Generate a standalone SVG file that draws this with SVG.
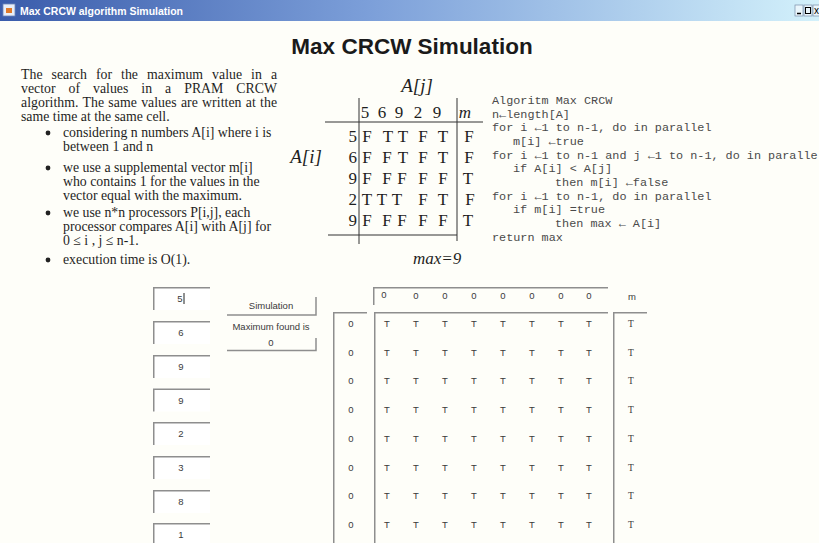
<svg xmlns="http://www.w3.org/2000/svg" width="819" height="543" viewBox="0 0 819 543">
<defs>
<linearGradient id="tb" x1="0" x2="1" y1="0" y2="0">
<stop offset="0" stop-color="#3a5cab"/>
<stop offset="0.45" stop-color="#7c9fd9"/>
<stop offset="1" stop-color="#d3f1fb"/>
</linearGradient>
</defs>
<style>
.serif{font-family:"Liberation Serif","Times New Roman",serif;fill:#1e1e1e}
.para{font-size:13.8px}
.mat{font-size:17px;text-anchor:middle}
.it{font-style:italic}
.mono{font-family:"Liberation Mono","DejaVu Sans Mono","Courier New",monospace;font-size:11.8px;fill:#4a4a4a}
.ui{font-family:"Liberation Sans",Tahoma,Arial,sans-serif;font-size:9.5px;fill:#3a3a3a;text-anchor:middle}
.sunk{fill:none;stroke:#8e8e8e;stroke-width:1.5}
.btn{fill:none;stroke:#8e8e8e;stroke-width:1.5}
.rule{stroke:#333;stroke-width:1;fill:none}
.fld{fill:#ffffff;stroke:none}
</style>
<rect x="0" y="0" width="819" height="543" fill="#fefef9"/>

<g id="titlebar">
<rect x="0" y="0" width="819" height="21" fill="url(#tb)"/>
<rect x="3" y="4" width="12" height="12" fill="#e8eef8" stroke="#6d86b8" stroke-width="0.8"/>
<rect x="6" y="8" width="6" height="5" fill="#e07a2a"/>
<text x="20" y="14.5" font-family="Liberation Sans,Tahoma,sans-serif" font-weight="bold" font-size="10px" fill="#ffffff" textLength="163" lengthAdjust="spacingAndGlyphs">Max CRCW algorithm Simulation</text>
<rect x="795" y="5" width="8" height="11" fill="#eaf6fc" stroke="#7a8ea8" stroke-width="0.7"/>
<line x1="797" y1="13.5" x2="801" y2="13.5" stroke="#000" stroke-width="1.5"/>
<rect x="804" y="5" width="8" height="11" fill="#eaf6fc" stroke="#7a8ea8" stroke-width="0.7"/>
<rect x="805.5" y="7.5" width="5" height="6" fill="none" stroke="#000" stroke-width="1"/>
<rect x="813" y="5" width="8" height="11" fill="#eaf6fc" stroke="#7a8ea8" stroke-width="0.7"/>
<text x="814" y="14" font-family="Liberation Sans,sans-serif" font-size="10px" fill="#000">x</text>
</g>

<text id="title" x="412" y="54" font-family="Liberation Sans,Arial,sans-serif" font-weight="bold" font-size="22.5px" fill="#1a1a1a" text-anchor="middle">Max CRCW Simulation</text>

<g id="description" class="serif para">
<text x="21" y="79" word-spacing="5.5" textLength="256" lengthAdjust="spacing">The search for the maximum value in a</text>
<text x="21" y="93" word-spacing="9.5" textLength="256" lengthAdjust="spacing">vector of values in a PRAM CRCW</text>
<text x="21" y="107" word-spacing="0.8" textLength="256" lengthAdjust="spacing">algorithm. The same values are written at the</text>
<text x="21" y="121">same time at the same cell.</text>
<circle cx="48" cy="133" r="2.4" fill="#222"/>
<text x="63" y="137">considering n numbers A[i] where i is</text>
<text x="63" y="151">between 1 and n</text>
<circle cx="48" cy="168" r="2.4" fill="#222"/>
<text x="63" y="172">we use a supplemental vector m[i]</text>
<text x="63" y="186">who contains 1 for the values in the</text>
<text x="63" y="200">vector equal with the maximum.</text>
<circle cx="48" cy="213" r="2.4" fill="#222"/>
<text x="63" y="217">we use n*n processors P[i,j], each</text>
<text x="63" y="231">processor compares A[i] with A[j] for</text>
<text x="63" y="245">0 ≤ i , j ≤ n-1.</text>
<circle cx="48" cy="260" r="2.4" fill="#222"/>
<text x="63" y="264">execution time is O(1).</text>
</g>

<g id="matrix" class="serif">
<text x="417" y="92" font-size="19px" class="it" text-anchor="middle">A[j]</text>
<text x="306" y="163" font-size="19px" class="it" text-anchor="middle">A[i]</text>
<line class="rule" x1="359" y1="98" x2="359" y2="244"/>
<line class="rule" x1="457" y1="98" x2="457" y2="241"/>
<line class="rule" x1="325" y1="122" x2="483" y2="122"/>
<line class="rule" x1="328" y1="235" x2="457" y2="235"/>
<g class="mat">
<text x="365" y="117.5">5</text><text x="382" y="117.5">6</text><text x="399" y="117.5">9</text><text x="418" y="117.5">2</text><text x="437" y="117.5">9</text><text x="465" y="117.5" class="it">m</text>
<text x="357" y="141.5" text-anchor="end">5</text>
<text x="367" y="141.5">F</text><text x="388" y="141.5">T</text><text x="403" y="141.5">T</text><text x="423" y="141.5">F</text><text x="443" y="141.5">T</text><text x="469" y="141.5">F</text>
<text x="357" y="162.5" text-anchor="end">6</text>
<text x="367" y="162.5">F</text><text x="387" y="162.5">F</text><text x="403" y="162.5">T</text><text x="423" y="162.5">F</text><text x="443" y="162.5">T</text><text x="469" y="162.5">F</text>
<text x="357" y="183.5" text-anchor="end">9</text>
<text x="367" y="183.5">F</text><text x="387" y="183.5">F</text><text x="402" y="183.5">F</text><text x="423" y="183.5">F</text><text x="443" y="183.5">F</text><text x="468" y="183.5">T</text>
<text x="357" y="204.5" text-anchor="end">2</text>
<text x="367" y="204.5">T</text><text x="382" y="204.5">T</text><text x="397" y="204.5">T</text><text x="423" y="204.5">F</text><text x="443" y="204.5">T</text><text x="470" y="204.5">F</text>
<text x="357" y="225.5" text-anchor="end">9</text>
<text x="367" y="225.5">F</text><text x="387" y="225.5">F</text><text x="402" y="225.5">F</text><text x="423" y="225.5">F</text><text x="443" y="225.5">F</text><text x="468" y="225.5">T</text>
</g>
<text x="413" y="264" font-size="17px" class="it">max=9</text>
</g>

<g id="algorithm" class="mono">
<text x="492" y="104">Algoritm Max CRCW</text>
<text x="492" y="117.5">n←length[A]</text>
<text x="492" y="131">for i ←1 to n-1, do in parallel</text>
<text x="513" y="145">m[i] ←true</text>
<text x="492" y="158.5">for i ←1 to n-1 and j ←1 to n-1, do in paralle</text>
<text x="513" y="172">if A[i] &lt; A[j]</text>
<text x="555" y="186">then m[i] ←false</text>
<text x="492" y="199.5">for i ←1 to n-1, do in parallel</text>
<text x="513" y="213">if m[i] =true</text>
<text x="555" y="227">then max ← A[i]</text>
<text x="492" y="240.5">return max</text>
</g>

<g id="inputs">
<rect class="fld" x="153" y="287" width="57" height="23"/><path class="sunk" d="M153.75,310 V287.75 H210"/><text class="ui" x="180" y="302">5</text><line x1="184" y1="293" x2="184" y2="304" stroke="#222" stroke-width="1"/>
<rect class="fld" x="153" y="321" width="57" height="23"/><path class="sunk" d="M153.75,344 V321.75 H210"/><text class="ui" x="181" y="336">6</text>
<rect class="fld" x="153" y="355" width="57" height="23"/><path class="sunk" d="M153.75,378 V355.75 H210"/><text class="ui" x="181" y="370">9</text>
<rect class="fld" x="153" y="388.5" width="57" height="23"/><path class="sunk" d="M153.75,411.5 V389.25 H210"/><text class="ui" x="181" y="403.5">9</text>
<rect class="fld" x="153" y="422" width="57" height="23"/><path class="sunk" d="M153.75,445 V422.75 H210"/><text class="ui" x="181" y="437">2</text>
<rect class="fld" x="153" y="456" width="57" height="23"/><path class="sunk" d="M153.75,479 V456.75 H210"/><text class="ui" x="181" y="471">3</text>
<rect class="fld" x="153" y="490" width="57" height="23"/><path class="sunk" d="M153.75,513 V490.75 H210"/><text class="ui" x="181" y="505">8</text>
<rect class="fld" x="153" y="523" width="57" height="23"/><path class="sunk" d="M153.75,546 V523.75 H210"/><text class="ui" x="181" y="538">1</text>
</g>

<g id="controls">
<path class="btn" d="M227,315 H316 V297"/>
<text class="ui" x="271" y="308.5">Simulation</text>
<text class="ui" x="271" y="330">Maximum found is</text>
<path class="btn" d="M227,350.5 H316 V338"/>
<text class="ui" x="271" y="346">0</text>
</g>

<g id="grid">
<path class="sunk" d="M373.75,305 V287.75 H608"/>
<g class="ui" font-size="9px">
<text x="384" y="298">0</text><text x="416" y="299">0</text><text x="445" y="299">0</text><text x="474" y="299">0</text><text x="503" y="299">0</text><text x="532" y="299">0</text><text x="561" y="299">0</text><text x="589" y="299">0</text>
</g>
<text class="ui" x="632" y="300">m</text>
<path class="sunk" d="M333.75,543 V312.75 H367"/>
<path class="sunk" d="M374.75,543 V312.75 H608"/>
<path class="sunk" d="M613.75,543 V312.75 H647"/>
<g class="ui">
<text x="351" y="327">0</text><text x="351" y="355.7">0</text><text x="351" y="384.4">0</text><text x="351" y="413.1">0</text><text x="351" y="441.8">0</text><text x="351" y="470.5">0</text><text x="351" y="499.2">0</text><text x="351" y="527.9">0</text>
</g>
<g class="ui">
<text y="327"><tspan x="387">T</tspan><tspan x="416">T</tspan><tspan x="445">T</tspan><tspan x="474">T</tspan><tspan x="503">T</tspan><tspan x="532">T</tspan><tspan x="561">T</tspan><tspan x="589">T</tspan></text>
<text y="355.7"><tspan x="387">T</tspan><tspan x="416">T</tspan><tspan x="445">T</tspan><tspan x="474">T</tspan><tspan x="503">T</tspan><tspan x="532">T</tspan><tspan x="561">T</tspan><tspan x="589">T</tspan></text>
<text y="384.4"><tspan x="387">T</tspan><tspan x="416">T</tspan><tspan x="445">T</tspan><tspan x="474">T</tspan><tspan x="503">T</tspan><tspan x="532">T</tspan><tspan x="561">T</tspan><tspan x="589">T</tspan></text>
<text y="413.1"><tspan x="387">T</tspan><tspan x="416">T</tspan><tspan x="445">T</tspan><tspan x="474">T</tspan><tspan x="503">T</tspan><tspan x="532">T</tspan><tspan x="561">T</tspan><tspan x="589">T</tspan></text>
<text y="441.8"><tspan x="387">T</tspan><tspan x="416">T</tspan><tspan x="445">T</tspan><tspan x="474">T</tspan><tspan x="503">T</tspan><tspan x="532">T</tspan><tspan x="561">T</tspan><tspan x="589">T</tspan></text>
<text y="470.5"><tspan x="387">T</tspan><tspan x="416">T</tspan><tspan x="445">T</tspan><tspan x="474">T</tspan><tspan x="503">T</tspan><tspan x="532">T</tspan><tspan x="561">T</tspan><tspan x="589">T</tspan></text>
<text y="499.2"><tspan x="387">T</tspan><tspan x="416">T</tspan><tspan x="445">T</tspan><tspan x="474">T</tspan><tspan x="503">T</tspan><tspan x="532">T</tspan><tspan x="561">T</tspan><tspan x="589">T</tspan></text>
<text y="527.9"><tspan x="387">T</tspan><tspan x="416">T</tspan><tspan x="445">T</tspan><tspan x="474">T</tspan><tspan x="503">T</tspan><tspan x="532">T</tspan><tspan x="561">T</tspan><tspan x="589">T</tspan></text>
</g>
<g class="ui" style="font-family:'Liberation Serif',serif;fill:#3a3a3a">
<text x="631" y="327">T</text><text x="631" y="355.7">T</text><text x="631" y="384.4">T</text><text x="631" y="413.1">T</text><text x="631" y="441.8">T</text><text x="631" y="470.5">T</text><text x="631" y="499.2">T</text><text x="631" y="527.9">T</text>
</g>
</g>
</svg>
